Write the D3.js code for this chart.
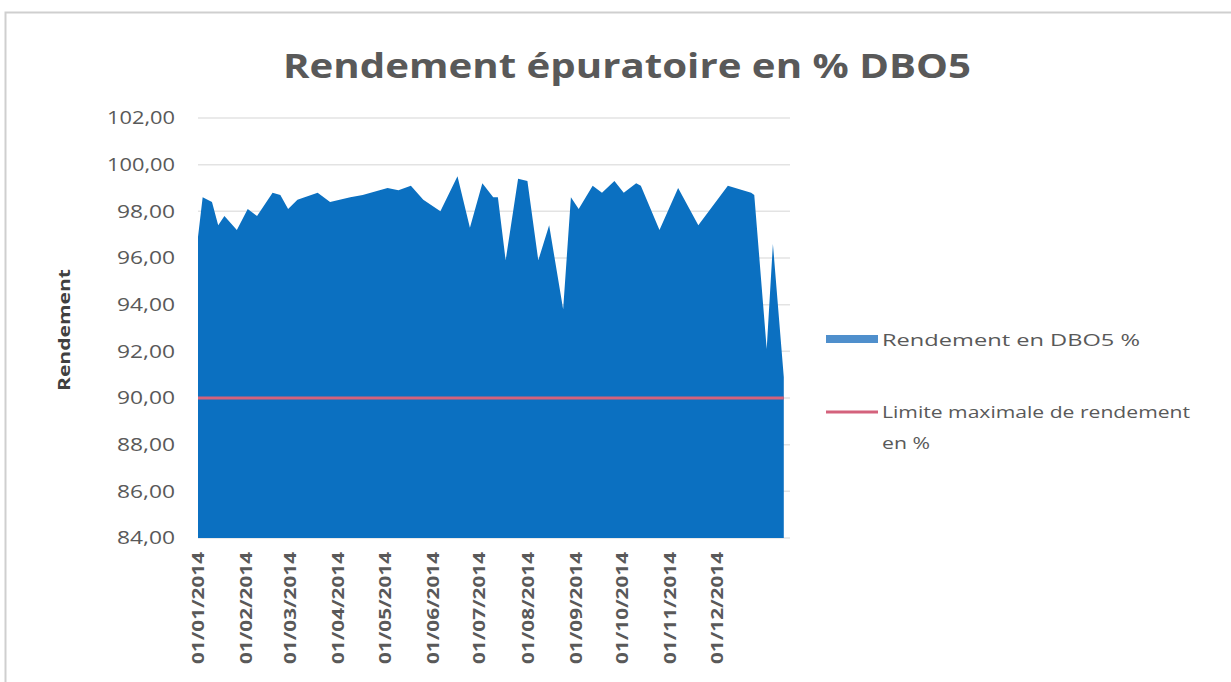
<!DOCTYPE html>
<html>
<head>
<meta charset="utf-8">
<script src="https://cdn.jsdelivr.net/npm/d3@7"></script>
<style>
  body { margin: 0; background: #fff; }
  svg { display: block; }
  text { font-family: "Open Sans", "Liberation Sans", sans-serif; }
</style>
</head>
<body>
<div id="chart"></div>
<script>
// data (dd/mm/yyyy)
var dates = [
  "01/01/2014","04/01/2014","10/01/2014","14/01/2014","18/01/2014","26/01/2014",
  "02/02/2014","08/02/2014","18/02/2014","23/02/2014","28/02/2014","06/03/2014",
  "19/03/2014","27/03/2014","09/04/2014","17/04/2014","03/05/2014","10/05/2014",
  "18/05/2014","26/05/2014","06/06/2014","17/06/2014","25/06/2014","03/07/2014",
  "10/07/2014","13/07/2014","18/07/2014","26/07/2014","01/08/2014","08/08/2014",
  "15/08/2014","24/08/2014","29/08/2014","03/09/2014","12/09/2014","18/09/2014",
  "26/09/2014","02/10/2014","10/10/2014","13/10/2014","25/10/2014","06/11/2014",
  "19/11/2014","08/12/2014","23/12/2014","25/12/2014","02/01/2015","06/01/2015",
  "13/01/2015"
];
var rendement = [
  96.9, 98.6, 98.4, 97.4, 97.8, 97.2,
  98.1, 97.8, 98.8, 98.7, 98.1, 98.5,
  98.8, 98.4, 98.6, 98.7, 99.0, 98.9,
  99.1, 98.5, 98.0, 99.5, 97.3, 99.2,
  98.6, 98.6, 95.9, 99.4, 99.3, 95.9,
  97.4, 93.8, 98.6, 98.1, 99.1, 98.8,
  99.3, 98.8, 99.2, 99.1, 97.2, 99.0,
  97.4, 99.1, 98.8, 98.7, 92.1, 96.6,
  90.9
];
var limite = 90;
var yTicks = [84, 86, 88, 90, 92, 94, 96, 98, 100, 102];
var xTicks = [
  "01/01/2014","01/02/2014","01/03/2014","01/04/2014","01/05/2014","01/06/2014",
  "01/07/2014","01/08/2014","01/09/2014","01/10/2014","01/11/2014","01/12/2014"
];
var xDomain = ["01/01/2014", "17/01/2015"];
var titre = "Rendement épuratoire en % DBO5";
var yTitre = "Rendement";
var legendLabels = ["Rendement en DBO5 %", "Limite maximale de rendement", "en %"];

var width = 1231, height = 682;
var plot = { left: 198, right: 790, top: 118, bottom: 538 };
var blue = "#0b70c1";
var red = "#d4627c";
var grey = "#595959";

var parse = d3.timeParse("%d/%m/%Y");
var fmt = function (v) { return d3.format(".2f")(v).replace(".", ","); };

var data = dates.map(function (d, i) { return { date: parse(d), value: rendement[i] }; });

var svg = d3.select("#chart").append("svg")
  .attr("width", width)
  .attr("height", height);

// chart frame
svg.append("path")
  .attr("d", "M5.5," + height + " V12.5 H" + width)
  .attr("fill", "none")
  .attr("stroke", "#cfcfcf")
  .attr("stroke-width", 2);

var x = d3.scaleTime()
  .domain(xDomain.map(parse))
  .range([plot.left, plot.right]);

var y = d3.scaleLinear()
  .domain([84, 102])
  .range([plot.bottom, plot.top]);

// gridlines
svg.append("g")
  .selectAll("line")
  .data(yTicks)
  .enter()
  .append("line")
  .attr("x1", plot.left)
  .attr("x2", plot.right)
  .attr("y1", function (d) { return y(d); })
  .attr("y2", function (d) { return y(d); })
  .attr("stroke", "#e3e3e3")
  .attr("stroke-width", 1.5);

// area
var area = d3.area()
  .x(function (d) { return x(d.date); })
  .y0(y(84))
  .y1(function (d) { return y(d.value); });

svg.append("path")
  .datum(data)
  .attr("d", area)
  .attr("fill", blue);

// limit line
svg.append("line")
  .attr("x1", plot.left)
  .attr("x2", x(data[data.length - 1].date))
  .attr("y1", y(limite))
  .attr("y2", y(limite))
  .attr("stroke", red)
  .attr("stroke-width", 3);

// y axis
var yAxis = d3.axisLeft(y)
  .tickValues(yTicks)
  .tickFormat(fmt)
  .tickSize(0)
  .tickPadding(23);

var gy = svg.append("g")
  .attr("transform", "translate(" + plot.left + ",0)")
  .call(yAxis);
gy.select(".domain").remove();
gy.selectAll("text")
  .attr("fill", grey)
  .style("font-size", "18px")
  .attr("textLength", 68)
  .attr("lengthAdjust", "spacingAndGlyphs");
// the shorter labels keep the same look
gy.selectAll("text")
  .filter(function (d) { return d < 100; })
  .attr("textLength", 58);

// x axis
var xAxis = d3.axisBottom(x)
  .tickValues(xTicks.map(parse))
  .tickFormat(d3.timeFormat("%d/%m/%Y"))
  .tickSize(0);

var gx = svg.append("g")
  .attr("transform", "translate(0," + plot.bottom + ")")
  .call(xAxis);
gx.select(".domain").remove();
gx.selectAll("text")
  .attr("fill", grey)
  .style("font-size", "16px")
  .style("font-weight", "bold")
  .attr("text-anchor", "end")
  .attr("dy", "0.35em")
  .attr("textLength", 112)
  .attr("lengthAdjust", "spacingAndGlyphs")
  .attr("transform", "translate(0,14) rotate(-90)")
  .attr("x", 0)
  .attr("y", 0);

// titles
svg.append("text")
  .attr("x", 627)
  .attr("y", 78)
  .attr("text-anchor", "middle")
  .attr("fill", grey)
  .style("font-size", "34px")
  .style("font-weight", "bold")
  .attr("textLength", 688)
  .attr("lengthAdjust", "spacingAndGlyphs")
  .text(titre);

svg.append("text")
  .attr("transform", "translate(70,330) rotate(-90)")
  .attr("text-anchor", "middle")
  .attr("fill", "#404040")
  .style("font-size", "16px")
  .style("font-weight", "bold")
  .attr("textLength", 122)
  .attr("lengthAdjust", "spacingAndGlyphs")
  .text(yTitre);

// legend
var lg = svg.append("g");
lg.append("rect")
  .attr("x", 826).attr("y", 335)
  .attr("width", 52).attr("height", 8)
  .attr("fill", "#4f8fcc");
lg.append("text")
  .attr("x", 882).attr("y", 346)
  .attr("fill", grey)
  .style("font-size", "17px")
  .attr("textLength", 258)
  .attr("lengthAdjust", "spacingAndGlyphs")
  .text(legendLabels[0]);
lg.append("line")
  .attr("x1", 826).attr("x2", 878)
  .attr("y1", 412).attr("y2", 412)
  .attr("stroke", red)
  .attr("stroke-width", 3);
lg.append("text")
  .attr("x", 882).attr("y", 418)
  .attr("fill", grey)
  .style("font-size", "17px")
  .attr("textLength", 308)
  .attr("lengthAdjust", "spacingAndGlyphs")
  .text(legendLabels[1]);
lg.append("text")
  .attr("x", 882).attr("y", 449)
  .attr("fill", grey)
  .style("font-size", "17px")
  .attr("textLength", 48)
  .attr("lengthAdjust", "spacingAndGlyphs")
  .text(legendLabels[2]);
</script>
</body>
</html>
